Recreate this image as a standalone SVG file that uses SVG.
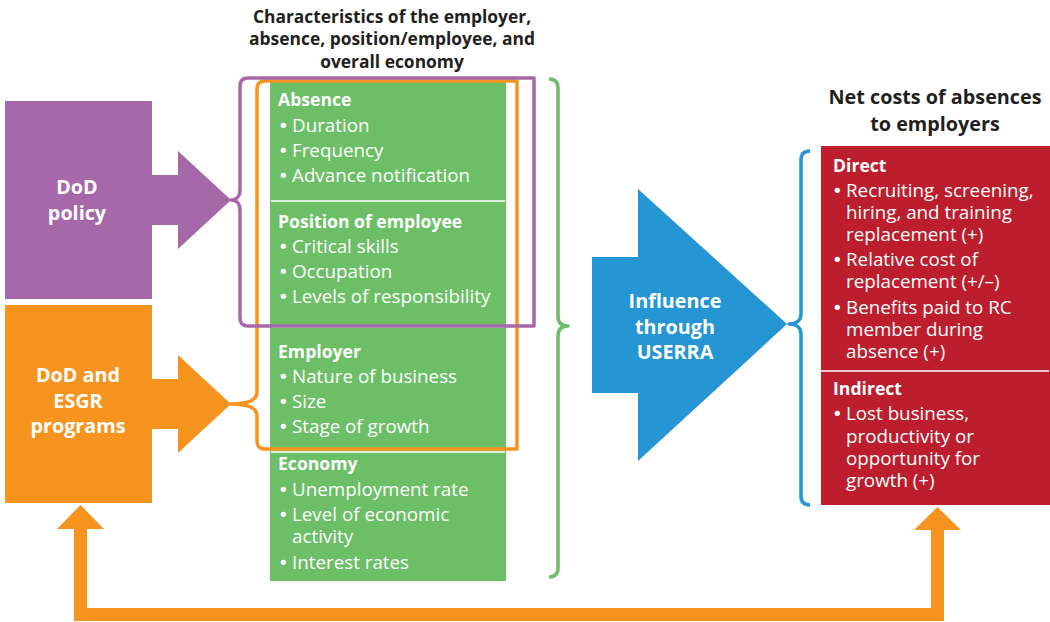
<svg xmlns="http://www.w3.org/2000/svg" width="1050" height="622" viewBox="0 0 1050 622">
<style>
text{font-family:"Open Sans","Noto Sans","Liberation Sans",sans-serif}
.h{font-weight:bold;font-size:17.4px;fill:#231F20;text-anchor:middle}
.h2{font-weight:bold;font-size:19.8px;fill:#231F20;text-anchor:middle}
.big{font-weight:bold;font-size:19.8px;fill:#fff;text-anchor:middle}
.t{font-weight:bold;font-size:17.6px;fill:#fff}
.b{font-size:18.8px;fill:#fff}
.d{font-family:"DejaVu Sans",sans-serif;font-size:18px}
.sep{stroke:#fff;stroke-width:1.5}
.br{fill:none;stroke-width:3.5;stroke-linejoin:round}
</style>
<rect width="1050" height="622" fill="#fff"/>
<g id="header-characteristics">
<text class="h" x="392" y="23">Characteristics of the employer,</text>
<text class="h" x="392" y="45">absence, position/employee, and</text>
<text class="h" x="392" y="68">overall economy</text>
</g>
<g id="header-netcosts">
<text class="h2" x="935" y="104">Net costs of absences</text>
<text class="h2" x="935" y="131">to employers</text>
</g>
<g id="dod-policy">
<rect x="5" y="101" width="147" height="198" fill="#A768A9"/>
<polygon points="151,175 178,175 178,151 231,200 178,249 178,225 151,225" fill="#A768A9"/>
<text class="big" x="77" y="194">DoD</text>
<text class="big" x="77" y="220">policy</text>
</g>
<g id="dod-esgr">
<rect x="5" y="305" width="147" height="198" fill="#F7941F"/>
<polygon points="151,379 178,379 178,355 231,404 178,453 178,429 151,429" fill="#F7941F"/>
<text class="big" x="78" y="382">DoD and</text>
<text class="big" x="78" y="408">ESGR</text>
<text class="big" x="78" y="433">programs</text>
</g>
<g id="characteristics">
<rect x="270" y="82" width="236" height="499" fill="#6CBF67"/>
<line class="sep" x1="271" y1="201" x2="505" y2="201"/>
<line class="sep" x1="271" y1="327" x2="505" y2="327"/>
<line class="sep" x1="271" y1="452" x2="505" y2="452"/>
<text class="t" x="278" y="106">Absence</text>
<text class="b" y="132"><tspan class="d" x="278">•</tspan><tspan x="292">Duration</tspan></text>
<text class="b" y="157"><tspan class="d" x="278">•</tspan><tspan x="292">Frequency</tspan></text>
<text class="b" y="182"><tspan class="d" x="278">•</tspan><tspan x="292">Advance notification</tspan></text>
<text class="t" x="278" y="228">Position of employee</text>
<text class="b" y="253"><tspan class="d" x="278">•</tspan><tspan x="292">Critical skills</tspan></text>
<text class="b" y="278"><tspan class="d" x="278">•</tspan><tspan x="292">Occupation</tspan></text>
<text class="b" y="303"><tspan class="d" x="278">•</tspan><tspan x="292">Levels of responsibility</tspan></text>
<text class="t" x="278" y="358">Employer</text>
<text class="b" y="383"><tspan class="d" x="278">•</tspan><tspan x="292">Nature of business</tspan></text>
<text class="b" y="408"><tspan class="d" x="278">•</tspan><tspan x="292">Size</tspan></text>
<text class="b" y="433"><tspan class="d" x="278">•</tspan><tspan x="292">Stage of growth</tspan></text>
<text class="t" x="278" y="470">Economy</text>
<text class="b" y="496"><tspan class="d" x="278">•</tspan><tspan x="292">Unemployment rate</tspan></text>
<text class="b" y="521"><tspan class="d" x="278">•</tspan><tspan x="292">Level of economic</tspan></text>
<text class="b" x="292" y="543">activity</text>
<text class="b" y="569"><tspan class="d" x="278">•</tspan><tspan x="292">Interest rates</tspan></text>
</g>
<g id="orange-brace">
<path class="br" stroke="#F7941F" d="M517,81 L517,449 L265,449 Q257,449 257,441 L257,416 C257,407 245,404 231,404 C245,404 257,401 257,392 L257,89 Q257,81 265,81 Z"/>
</g>
<g id="purple-brace">
<path class="br" stroke="#A768A9" d="M534,78 L534,326 L248,326 Q240,326 240,318 L240,210 C240,203 236,200 231,200 C236,200 240,197 240,190 L240,86 Q240,78 248,78 Z"/>
</g>
<g id="green-brace">
<path class="br" stroke="#6CBF67" stroke-width="3" d="M549,79 Q558,79 558,88 L558,316 C558,322 561,326 568,326 C561,326 558,330 558,336 L558,568 Q558,577 549,577"/>
</g>
<g id="userra">
<polygon points="592,257 638,257 638,189 787,324 638,461 638,393 592,393" fill="#2595D3"/>
<text class="big" x="675" y="308">Influence</text>
<text class="big" x="675" y="334">through</text>
<text class="big" x="675" y="359">USERRA</text>
</g>
<g id="blue-brace">
<path class="br" stroke="#2595D3" d="M810,151 Q801,151 801,160 L801,314 C801,320 797,324 789,324 C797,324 801,328 801,334 L801,496 Q801,505 810,505"/>
</g>
<g id="net-costs">
<rect x="821" y="146" width="229" height="359" fill="#BC1E2D"/>
<line class="sep" x1="821" y1="371" x2="1049" y2="371"/>
<text class="t" x="833" y="172">Direct</text>
<text class="b" y="197"><tspan class="d" x="832">•</tspan><tspan x="846">Recruiting, screening,</tspan></text>
<text class="b" x="846" y="219">hiring, and training</text>
<text class="b" x="846" y="241">replacement (+)</text>
<text class="b" y="266"><tspan class="d" x="832">•</tspan><tspan x="846">Relative cost of</tspan></text>
<text class="b" x="846" y="288">replacement (+/–)</text>
<text class="b" y="314"><tspan class="d" x="832">•</tspan><tspan x="846">Benefits paid to RC</tspan></text>
<text class="b" x="846" y="336">member during</text>
<text class="b" x="846" y="358">absence (+)</text>
<text class="t" x="833" y="395">Indirect</text>
<text class="b" y="420"><tspan class="d" x="832">•</tspan><tspan x="846">Lost business,</tspan></text>
<text class="b" x="846" y="443">productivity or</text>
<text class="b" x="846" y="465">opportunity for</text>
<text class="b" x="846" y="487">growth (+)</text>
</g>
<g id="connectors">
<polyline points="80.5,528 80.5,614.5 937.5,614.5 937.5,529" fill="none" stroke="#F7941F" stroke-width="13" stroke-linejoin="miter"/>
<polygon points="80.5,505 104,529 57,529" fill="#F7941F"/>
<polygon points="937.5,507 961,530 914,530" fill="#F7941F"/>
</g>
</svg>
